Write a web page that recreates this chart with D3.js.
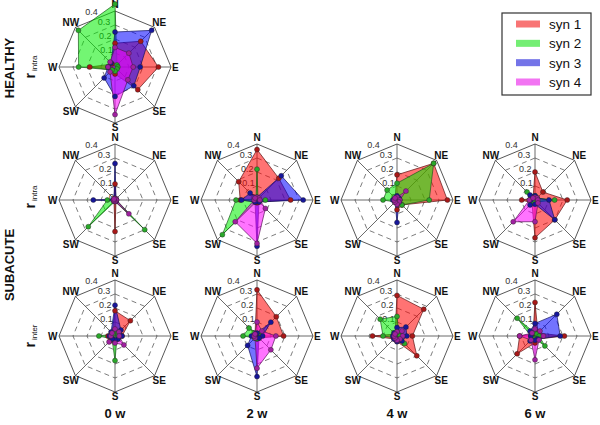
<!DOCTYPE html>
<html><head><meta charset="utf-8">
<script src="https://cdn.jsdelivr.net/npm/d3@7"></script>
<style>body{margin:0;background:#fff}svg{display:block}text{font-family:"Liberation Sans",Arial,sans-serif}</style>
</head><body><svg id="c" width="600" height="425"></svg>
<script>
const directions = ["N","NE","E","SE","S","SW","W","NW"];
const seriesNames = ["syn 1","syn 2","syn 3","syn 4"];
const rTicks = [0, 0.1, 0.2, 0.3, 0.4];
const columnLabels = ["0 w","2 w","4 w","6 w"];

// values per direction N, NE, E, SE, S, SW, W, NW ; [syn1, syn2, syn3, syn4]
const healthyIntra = [
  [0.17, 0.26, 0.31, 0.23, 0.05, 0.03, 0.18, 0.03],
  [0.45, 0.02, 0.02, 0.02, 0.03, 0.03, 0.26, 0.37],
  [0.25, 0.37, 0.18, 0.19, 0.21, 0.11, 0.05, 0.04],
  [0.14, 0.14, 0.13, 0.13, 0.34, 0.05, 0.05, 0.05]
];
const intra0w = [
  [0.115, 0.01, 0.01, 0.01, 0.225, 0.01, 0.01, 0.01],
  [0.01, 0.0, 0.01, 0.30, 0.01, 0.27, 0.055, 0.01],
  [0.26, 0.01, 0.01, 0.01, 0.01, 0.01, 0.155, 0.01],
  [0.01, 0.01, 0.01, 0.14, 0.01, 0.01, 0.01, 0.01]
];
const intra2w = [
  [0.36, 0.22, 0.24, 0.02, 0.02, 0.02, 0.12, 0.185],
  [0.22, 0.01, 0.06, 0.01, 0.01, 0.35, 0.15, 0.01],
  [0.02, 0.245, 0.33, 0.02, 0.33, 0.02, 0.11, 0.07],
  [0.02, 0.02, 0.02, 0.085, 0.31, 0.22, 0.02, 0.02]
];
const intra4w = [
  [0.18, 0.37, 0.36, 0.05, 0.07, 0.02, 0.02, 0.02],
  [0.12, 0.37, 0.23, 0.05, 0.02, 0.02, 0.10, 0.10],
  [0.03, 0.02, 0.02, 0.02, 0.16, 0.02, 0.03, 0.02],
  [0.02, 0.09, 0.02, 0.02, 0.03, 0.02, 0.02, 0.02]
];
const intra6w = [
  [0.20, 0.08, 0.23, 0.20, 0.27, 0.03, 0.095, 0.02],
  [0.03, 0.02, 0.14, 0.02, 0.02, 0.02, 0.04, 0.08],
  [0.03, 0.02, 0.10, 0.20, 0.03, 0.05, 0.03, 0.05],
  [0.02, 0.02, 0.02, 0.03, 0.155, 0.22, 0.04, 0.02]
];
const inter0w = [
  [0.18, 0.155, 0.05, 0.03, 0.03, 0.05, 0.05, 0.03],
  [0.03, 0.03, 0.02, 0.02, 0.175, 0.03, 0.115, 0.02],
  [0.22, 0.06, 0.05, 0.03, 0.03, 0.03, 0.04, 0.04],
  [0.05, 0.04, 0.03, 0.09, 0.05, 0.06, 0.03, 0.03]
];
const inter2w = [
  [0.33, 0.195, 0.19, 0.02, 0.02, 0.02, 0.02, 0.02],
  [0.02, 0.02, 0.02, 0.02, 0.02, 0.02, 0.10, 0.08],
  [0.02, 0.14, 0.04, 0.02, 0.29, 0.095, 0.04, 0.02],
  [0.10, 0.05, 0.135, 0.14, 0.23, 0.02, 0.02, 0.02]
];
const inter4w = [
  [0.29, 0.27, 0.11, 0.20, 0.04, 0.03, 0.175, 0.02],
  [0.14, 0.02, 0.02, 0.075, 0.02, 0.02, 0.10, 0.17],
  [0.06, 0.09, 0.07, 0.05, 0.04, 0.03, 0.03, 0.03],
  [0.03, 0.05, 0.04, 0.03, 0.03, 0.02, 0.02, 0.02]
];
const inter6w = [
  [0.24, 0.03, 0.21, 0.03, 0.05, 0.18, 0.11, 0.02],
  [0.02, 0.02, 0.03, 0.10, 0.02, 0.02, 0.03, 0.18],
  [0.09, 0.22, 0.18, 0.03, 0.03, 0.05, 0.03, 0.05],
  [0.05, 0.05, 0.06, 0.04, 0.17, 0.04, 0.11, 0.03]
];

const fillColors = ["#ff0000","#00ee00","#0000ff","#ff00ff"];
const markColors = ["#a81818","#2aa82a","#16169a","#a020a0"];
const edgeColors = ["#5a1010","#1a5a1a","#10105a","#5a105a"];
const swatchColors = ["#f87474","#74ee74","#7474e8","#f274f2"];

const svg = d3.select("#c");
const R = 56;
const rScale = d3.scaleLinear().domain([0, 0.4]).range([0, R]);
const aScale = d3.scalePoint().domain(directions).range([0, 2*Math.PI*7/8]);
const xy = (d, v) => { const a = aScale(d), r = rScale(v); return [r*Math.sin(a), -r*Math.cos(a)]; };

const colX = [115, 257, 397, 535];
const rowY = [67, 200, 336];
const labelGap = {N: 6.5, NE: 6.5, E: 1, SE: 6.5, S: 4, SW: 6.5, W: 1.5, NW: 6.5};

function panel(cx, cy, data) {
  const g = svg.append("g").attr("transform", `translate(${cx},${cy})`);
  rTicks.slice(1, -1).forEach(t => {
    g.append("path").attr("d", d3.lineRadial().angle(d => aScale(d)).radius(() => rScale(t)).curve(d3.curveLinearClosed)(directions))
      .attr("fill","none").attr("stroke","#444").attr("stroke-width",0.7).attr("stroke-dasharray","5,4");
  });
  directions.forEach(d => {
    const p = xy(d, 0.4);
    g.append("line").attr("x1",0).attr("y1",0).attr("x2",p[0]).attr("y2",p[1]).attr("stroke","#444").attr("stroke-width",0.8);
  });
  g.append("path").attr("d", d3.lineRadial().angle(d => aScale(d)).radius(() => rScale(0.4)).curve(d3.curveLinearClosed)(directions))
    .attr("fill","none").attr("stroke","#444").attr("stroke-width",0.9);
  rTicks.forEach((t, i) => {
    const r = rScale(t);
    let x, y;
    if (i === rTicks.length - 1) { x = -r*Math.sin(18*Math.PI/180); y = -r*Math.cos(18*Math.PI/180) + 1.5; }
    else { x = -1 - r*0.09; y = -r - 0.5; }
    g.append("text").attr("x", x).attr("y", y).attr("text-anchor","end").attr("font-size", 9).attr("fill","#333")
      .text(t === 0 ? "0" : t.toFixed(1));
  });
  directions.forEach(d => {
    const a = aScale(d), r = R + labelGap[d];
    const anchor = d === "E" ? "start" : d === "W" ? "end" : "middle";
    g.append("text").attr("x", r*Math.sin(a)).attr("y", -r*Math.cos(a)).attr("dy","0.36em")
      .attr("text-anchor",anchor).attr("font-size", 10).attr("font-weight","bold").attr("fill","#111").text(d);
  });
  const line = d3.lineRadial().angle((v, i) => aScale(directions[i])).radius(v => rScale(v)).curve(d3.curveLinearClosed);
  data.forEach((s, k) => {
    g.append("path").attr("d", line(s)).attr("fill", fillColors[k]).attr("fill-opacity", 0.55)
      .attr("stroke", edgeColors[k]).attr("stroke-width", 0.7);
  });
  data.forEach((s, k) => {
    s.forEach((v, i) => {
      const p = xy(directions[i], v);
      g.append("circle").attr("cx", p[0]).attr("cy", p[1]).attr("r", 2.5)
        .attr("fill", markColors[k]).attr("stroke", "#222").attr("stroke-width", 0.4);
    });
  });
}

panel(colX[0], rowY[0], healthyIntra);
[intra0w, intra2w, intra4w, intra6w].forEach((d, i) => panel(colX[i], rowY[1], d));
[inter0w, inter2w, inter4w, inter6w].forEach((d, i) => panel(colX[i], rowY[2], d));

function rotText(x, y, txt, size) {
  svg.append("text").attr("transform", `translate(${x},${y}) rotate(-90)`).attr("text-anchor","middle")
    .attr("dy","0.36em").attr("font-size", size).attr("font-weight","bold").attr("fill","#111").text(txt);
}
rotText(9, 68, "HEALTHY", 13);
rotText(9, 265, "SUBACUTE", 13);

function rLabel(x, y, sub) {
  const t = svg.append("text").attr("transform", `translate(${x},${y}) rotate(-90)`).attr("text-anchor","middle").attr("fill","#111");
  t.append("tspan").attr("font-size", 14).attr("font-weight","bold").text("r");
  t.append("tspan").attr("font-size", 8).attr("dx", 2).attr("dy", 2).text(sub);
}
rLabel(35, 67, "intra");
rLabel(35, 197, "intra");
rLabel(35, 336, "inter");

columnLabels.forEach((c, i) => {
  svg.append("text").attr("x", colX[i]).attr("y", 418).attr("text-anchor","middle")
    .attr("font-size", 13).attr("font-weight","bold").attr("fill","#111").text(c);
});

const lg = svg.append("g");
lg.append("rect").attr("x", 502).attr("y", 13).attr("width", 89).attr("height", 82)
  .attr("fill","#fff").attr("stroke","#333").attr("stroke-width",1.2);
const ly = d3.scalePoint().domain(seriesNames).range([24, 82]);
seriesNames.forEach((n, k) => {
  lg.append("rect").attr("x", 516).attr("y", ly(n) - 3.5).attr("width", 24).attr("height", 7).attr("fill", swatchColors[k]);
  lg.append("text").attr("x", 549).attr("y", ly(n)).attr("dy","0.36em").attr("font-size", 13.5).attr("fill","#111").text(n);
});
</script></body></html>
